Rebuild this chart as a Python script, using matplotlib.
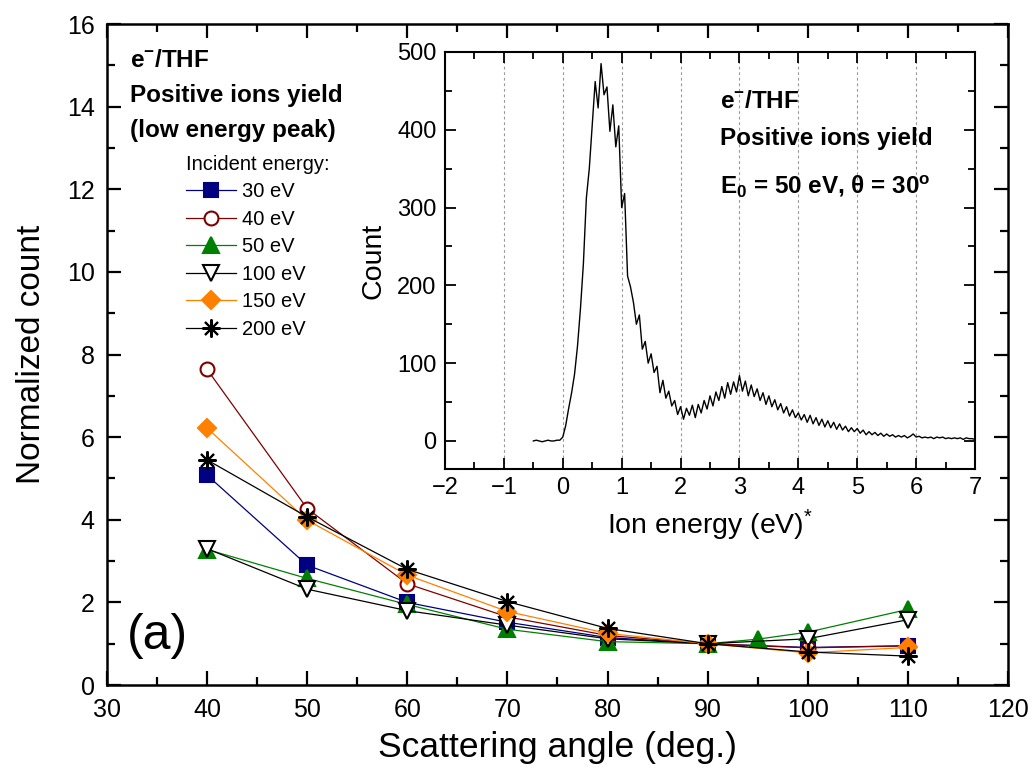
import numpy as np
import matplotlib.pyplot as plt
from matplotlib.ticker import MultipleLocator

# normalized positive-ion yield vs scattering angle (normalized to 1 at 90 deg)
angles = [40, 50, 60, 70, 80, 90, 100, 110]
angles_50eV = [40, 50, 60, 70, 80, 90, 95, 100, 110]
count_30eV = [5.08, 2.90, 2.00, 1.52, 1.15, 1.00, 0.91, 0.95]
count_40eV = [7.64, 4.27, 2.45, 1.65, 1.20, 1.00, 0.90, 0.95]
count_50eV = [3.28, 2.58, 1.95, 1.35, 1.05, 1.00, 1.11, 1.28, 1.83]
count_100eV = [3.30, 2.32, 1.80, 1.45, 1.12, 1.00, 1.12, 1.58]
count_150eV = [6.22, 3.99, 2.66, 1.78, 1.25, 1.00, 0.78, 0.91]
count_200eV = [5.45, 4.07, 2.80, 2.02, 1.37, 1.00, 0.80, 0.70]

# ion energy spectrum, E0 = 50 eV, theta = 30 deg, channels every 0.05 eV from -0.5 eV
energy_start, energy_step = -0.5, 0.05
spectrum_counts = [
    0, 1, 0, -1, 0, 1, 0, 0, 1, 1,
    5, 20, 42, 62, 86, 122, 170, 228, 312, 350, 405, 462, 428, 485, 445, 455, 398, 432, 378, 405,
    300, 318, 212, 198, 178, 150, 162, 118, 128, 100, 112, 88, 96, 62, 78, 55, 64, 45, 52, 34,
    44, 28, 42, 33, 46, 30, 47, 36, 52, 41, 58, 45, 63, 52, 70, 55, 75, 60, 76, 63,
    84, 64, 77, 58, 72, 57, 67, 52, 62, 47, 58, 44, 53, 40, 48, 36, 44, 32, 40, 30,
    36, 27, 34, 24, 33, 22, 30, 20, 28, 18, 26, 17, 24, 15, 22, 14, 19, 12, 17, 12,
    16, 10, 14, 8, 12, 8, 11, 7, 10, 6, 9, 6, 8, 5, 7, 5, 7, 4, 6, 9,
    5, 6, 4, 5, 4, 5, 3, 5, 4, 5, 3, 4, 3, 4, 3, 4, 2, 4, 3, 3, 2,
]
energy = energy_start + energy_step * np.arange(len(spectrum_counts))

plt.rcParams['font.family'] = ['Liberation Sans', 'DejaVu Sans']
plt.rcParams['mathtext.fontset'] = 'custom'
plt.rcParams['mathtext.rm'] = 'Liberation Sans'
plt.rcParams['mathtext.it'] = 'Liberation Sans:italic'
plt.rcParams['mathtext.bf'] = 'Liberation Sans:bold'

fig = plt.figure(figsize=(10.32, 7.73), dpi=100)
ax = fig.add_axes([0.1037, 0.1138, 0.873, 0.855])

star = (8, 2, 0)
series = [
    (angles, count_30eV, '30 eV', '#000080', 's', '#000080', 9.5),
    (angles, count_40eV, '40 eV', '#800000', 'o', 'white', 10),
    (angles_50eV, count_50eV, '50 eV', '#008000', '^', '#008000', 11),
    (angles, count_100eV, '100 eV', 'black', 'v', 'white', 11),
    (angles, count_150eV, '150 eV', '#FF8000', 'D', '#FF8000', 9),
    (angles, count_200eV, '200 eV', 'black', star, 'black', 13),
]
for x, y, lab, col, mk, fc, ms in series:
    ax.plot(x, y, '-', color=col, lw=0.9, marker=mk, markersize=ms,
            markerfacecolor=fc, markeredgecolor=col, markeredgewidth=1.5, label=lab)

ax.set_xlim(30, 120)
ax.set_ylim(0, 16)
ax.xaxis.set_major_locator(MultipleLocator(10))
ax.xaxis.set_minor_locator(MultipleLocator(5))
ax.yaxis.set_major_locator(MultipleLocator(2))
ax.yaxis.set_minor_locator(MultipleLocator(1))
ax.tick_params(which='both', direction='in', top=True, right=True, width=1.6)
ax.tick_params(which='major', length=10, labelsize=18, pad=9)
ax.tick_params(which='minor', length=6)
for sp in ax.spines.values():
    sp.set_linewidth(1.8)

ax.set_xlabel('Scattering angle (deg.)', fontsize=25.5, labelpad=7)
ax.set_ylabel('Normalized count', fontsize=24, labelpad=14)

ax.text(0.0255, 0.935, r'e$^{\mathbf{-}}$/THF', transform=ax.transAxes,
        fontsize=17.5, fontweight='bold', va='baseline')
ax.text(0.0255, 0.882, 'Positive ions yield', transform=ax.transAxes,
        fontsize=17.5, fontweight='bold', va='baseline')
ax.text(0.0255, 0.829, '(low energy peak)', transform=ax.transAxes,
        fontsize=17.5, fontweight='bold', va='baseline')
ax.text(0.022, 0.055, '(a)', transform=ax.transAxes, fontsize=36, va='baseline')

leg = ax.legend(title='Incident energy:', loc='upper left', bbox_to_anchor=(0.0877, 0.802),
                frameon=False, fontsize=14.5, title_fontsize=14.5, handlelength=2.5,
                handletextpad=0.3, labelspacing=0.42, borderpad=0, borderaxespad=0,
                alignment='left')

# inset: ion energy spectrum
axin = fig.add_axes([0.4312, 0.3933, 0.5136, 0.5395])
axin.plot(energy, spectrum_counts, color='black', lw=1.0)
axin.set_xlim(-2, 7)
axin.set_ylim(-36, 500)
axin.xaxis.set_major_locator(MultipleLocator(1))
axin.xaxis.set_minor_locator(MultipleLocator(0.5))
axin.yaxis.set_major_locator(MultipleLocator(100))
axin.yaxis.set_minor_locator(MultipleLocator(50))
axin.grid(True, axis='x', which='major', color='#999999', lw=0.8, ls=(0, (2.5, 2.5)))
axin.tick_params(which='both', direction='in', top=True, right=True, width=1.3)
axin.tick_params(which='major', length=8, labelsize=17, pad=6)
axin.tick_params(which='minor', length=5)
for sp in axin.spines.values():
    sp.set_linewidth(1.5)
axin.set_xlabel('Ion energy (eV)$^{*}$', fontsize=20.5, labelpad=6)
axin.set_ylabel('Count', fontsize=20.5, labelpad=8)

axin.text(0.519, 0.866, r'e$^{\mathbf{-}}$/THF', transform=axin.transAxes,
          fontsize=17.5, fontweight='bold', va='baseline')
axin.text(0.519, 0.777, 'Positive ions yield', transform=axin.transAxes,
          fontsize=17.5, fontweight='bold', va='baseline')
axin.text(0.519, 0.662, r'E$_{\mathbf{0}}$ = 50 eV, $\mathbf{\theta}$ = 30$^{\mathbf{o}}$',
          transform=axin.transAxes, fontsize=17.5, fontweight='bold', va='baseline')

fig.savefig('out.png', dpi=100)
